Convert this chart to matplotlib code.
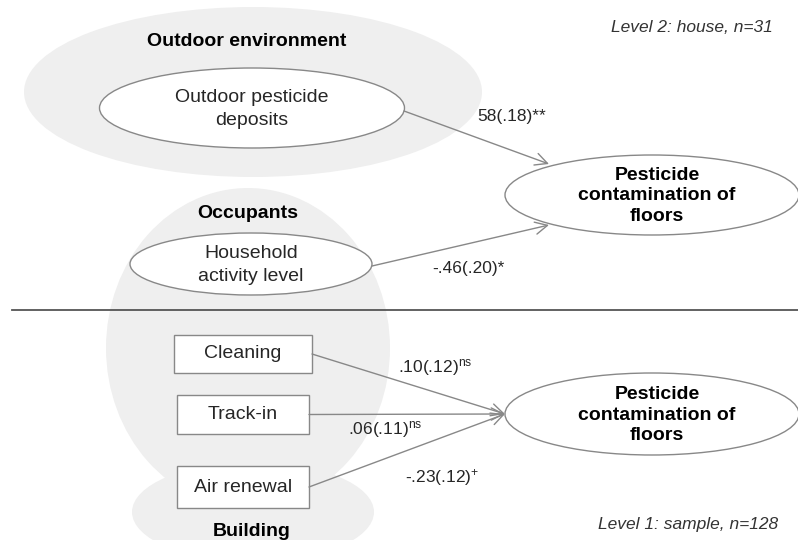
import matplotlib.pyplot as plt
from matplotlib.patches import Ellipse, Rectangle

plt.rcParams['font.family'] = ['Liberation Sans', 'DejaVu Sans']
plt.rcParams['mathtext.fontset'] = 'custom'
plt.rcParams['mathtext.rm'] = 'Liberation Sans'
plt.rcParams['mathtext.it'] = 'Liberation Sans:italic'

# texts of the diagram
group_names = ['Outdoor environment', 'Occupants', 'Building']
house_vars = ['Outdoor pesticide\ndeposits', 'Household\nactivity level']
sample_vars = ['Cleaning', 'Track-in', 'Air renewal']
outcome = 'Pesticide\ncontamination of\nfloors'
house_coefs = ['58(.18)**', '-.46(.20)*']
sample_coefs = [r'.10(.12)$^{\mathrm{ns}}$', r'.06(.11)$^{\mathrm{ns}}$', r'-.23(.12)$^{+}$']
level_labels = ['Level 2: house, n=31', 'Level 1: sample, n=128']

# layout (pixel units, y down)
group_pos = [(247, 42), (248, 213), (252, 531)]
house_ell = [(252, 108, 305, 80), (251, 264, 242, 62)]
house_start = [(404, 111), (372, 266)]
house_tip = [(549, 164), (549, 225)]
house_lab = [(477, 117), (432, 268)]
box_rect = [(174, 335, 138, 38), (177, 395, 132, 39), (177, 466, 132, 42)]
sample_lab = [(398, 367), (348, 430), (405, 478)]
out_ell = [(652, 195, 294, 80), (652, 414, 294, 82)]
out_tip = (505, 414)

fill = '#efefef'
edge = '#888888'
ink = '#262626'

fig = plt.figure(figsize=(7.98, 5.40), dpi=100)
ax = fig.add_axes([0, 0, 1, 1])
ax.set_xlim(0, 798)
ax.set_ylim(540, 0)
ax.axis('off')

# grey group areas
ax.add_patch(Ellipse((253, 92), 458, 170, facecolor=fill, edgecolor='none', zorder=0))
ax.add_patch(Ellipse((248, 348), 284, 320, facecolor=fill, edgecolor='none', zorder=0))
ax.add_patch(Ellipse((253, 512), 242, 100, facecolor=fill, edgecolor='none', zorder=0))
for name, (x, y) in zip(group_names, group_pos):
    ax.text(x, y, name, ha='center', va='center', fontsize=14, fontweight='bold', zorder=5)

# level separator
ax.plot([12, 798], [310, 310], color='#555555', lw=1.3, zorder=1)

# level 2
for txt, (x, y, w, h) in zip(house_vars, house_ell):
    ax.add_patch(Ellipse((x, y), w, h, facecolor='white', edgecolor=edge, lw=1, zorder=2))
    ax.text(x, y + 1, txt, ha='center', va='center', fontsize=14, color=ink,
            linespacing=1.4, zorder=5)
for s, t in zip(house_start, house_tip):
    ax.annotate('', xy=t, xytext=s, zorder=3,
                arrowprops=dict(arrowstyle='->', color=edge, lw=1, mutation_scale=22,
                                shrinkA=0, shrinkB=0))
for txt, (x, y) in zip(house_coefs, house_lab):
    ax.text(x, y, txt, ha='left', va='center', fontsize=12.5, color=ink, zorder=5)

# level 1
for txt, (x, y, w, h) in zip(sample_vars, box_rect):
    ax.add_patch(Rectangle((x, y), w, h, facecolor='white', edgecolor=edge, lw=1, zorder=2))
    ax.text(x + w / 2, y + h / 2, txt, ha='center', va='center', fontsize=14,
            color=ink, zorder=5)
    ax.annotate('', xy=out_tip, xytext=(x + w, y + h / 2), zorder=3,
                arrowprops=dict(arrowstyle='->', color=edge, lw=1, mutation_scale=22,
                                shrinkA=0, shrinkB=0))
for txt, (x, y) in zip(sample_coefs, sample_lab):
    ax.text(x, y, txt, ha='left', va='center', fontsize=12.5, color=ink, zorder=5)

# outcome
for (x, y, w, h) in out_ell:
    ax.add_patch(Ellipse((x, y), w, h, facecolor='white', edgecolor=edge, lw=1, zorder=2))
    ax.text(x + 5, y + 1, outcome, ha='center', va='center', fontsize=14, fontweight='bold',
            linespacing=1.3, zorder=5)

ax.text(773, 28, level_labels[0], ha='right', va='center', fontsize=12.5,
        style='italic', color='#333333')
ax.text(778, 525, level_labels[1], ha='right', va='center', fontsize=12.5,
        style='italic', color='#333333')

fig.savefig('out.png', dpi=100)
